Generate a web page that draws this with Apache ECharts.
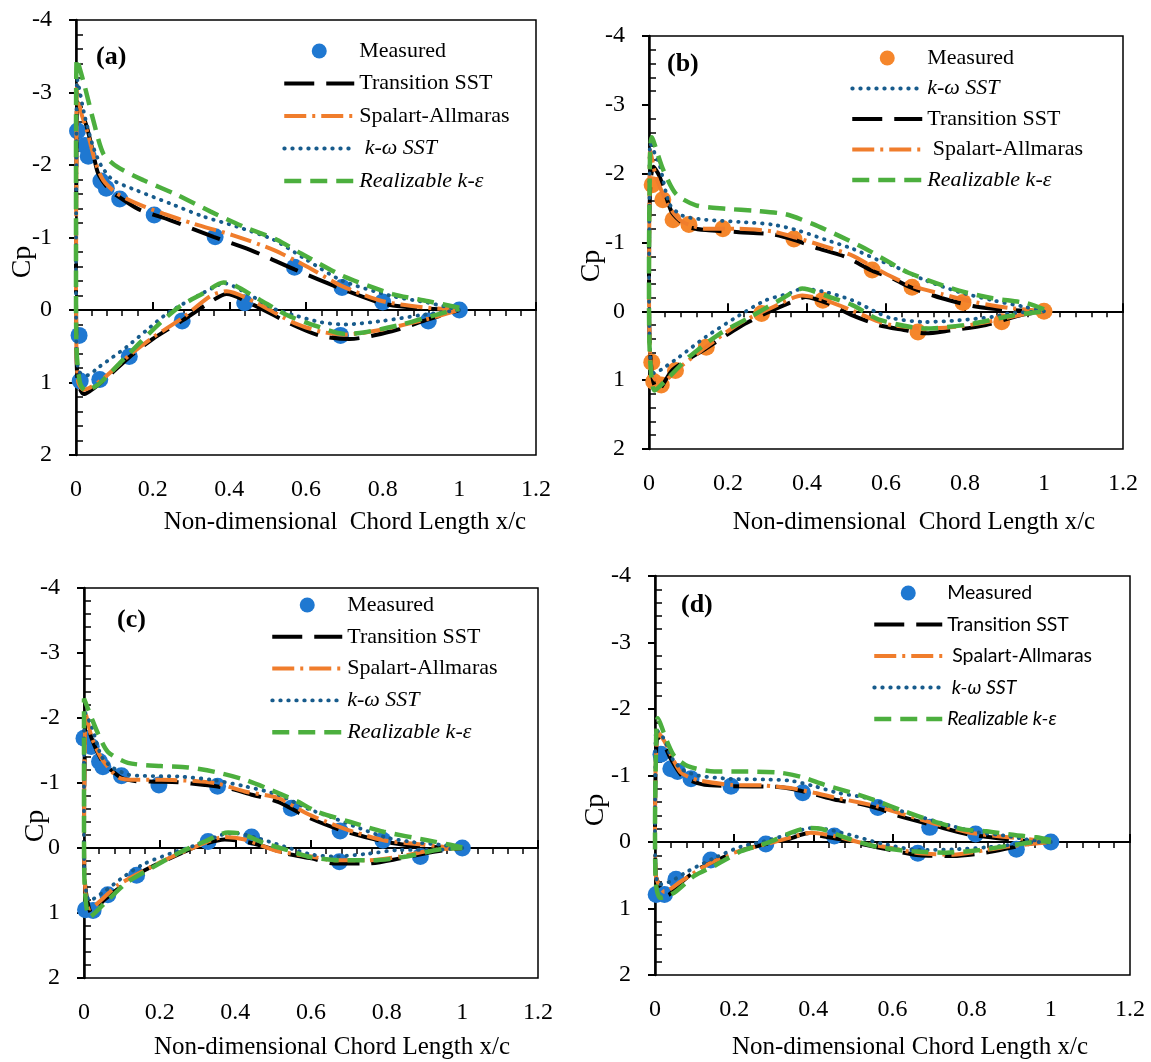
<!DOCTYPE html>
<html><head><meta charset="utf-8">
<script src="https://cdn.jsdelivr.net/npm/echarts@6/dist/echarts.min.js"></script>
<style>html,body{margin:0;padding:0;background:#fff}#c{width:1151px;height:1062px}</style>
</head><body><div id="c"></div>
<script>
// ---------- axis ticks ----------
const X_TICKS = [0, 0.2, 0.4, 0.6, 0.8, 1, 1.2];
const Y_TICKS = [-4, -3, -2, -1, 0, 1, 2];

// ---------- panel (a) ----------
const A_MEAS = [[0.004,-2.47],[0.023,-2.27],[0.032,-2.12],[0.065,-1.78],[0.079,-1.68],[0.114,-1.53],[0.204,-1.31],[0.363,-1.01],[0.570,-0.59],[0.694,-0.31],[0.800,-0.11],[1.0,0.0],[0.008,0.35],[0.011,0.98],[0.062,0.96],[0.139,0.64],[0.277,0.15],[0.440,-0.10],[0.690,0.35],[0.919,0.15]];
const A_TRANS_UP = [[0.004,-2.87],[0.028,-2.53],[0.045,-2.16],[0.058,-1.88],[0.089,-1.65],[0.132,-1.49],[0.167,-1.38],[0.245,-1.24],[0.359,-1.01],[0.454,-0.83],[0.57,-0.56],[0.694,-0.29],[0.80,-0.09],[0.886,-0.03],[1.0,0]];
const A_TRANS_LO = [[0.001,-2.0],[0.0,-0.5],[0.001,0.5],[0.005,1.0],[0.02,1.16],[0.07,0.98],[0.137,0.66],[0.2,0.40],[0.279,0.14],[0.359,-0.14],[0.393,-0.22],[0.463,-0.07],[0.568,0.21],[0.64,0.36],[0.714,0.40],[0.826,0.29],[0.919,0.13],[1.0,0]];
const A_SA_UP = [[0.003,-3.10],[0.012,-2.75],[0.03,-2.45],[0.05,-2.05],[0.071,-1.79],[0.106,-1.61],[0.167,-1.45],[0.228,-1.33],[0.306,-1.19],[0.41,-1.03],[0.515,-0.83],[0.602,-0.60],[0.694,-0.33],[0.80,-0.12],[0.919,-0.03],[1.0,0]];
const A_SA_LO = [[0.001,-2.0],[0.0,-0.5],[0.001,0.5],[0.006,1.0],[0.02,1.10],[0.07,0.95],[0.14,0.62],[0.2,0.38],[0.28,0.10],[0.35,-0.19],[0.393,-0.26],[0.47,-0.10],[0.57,0.18],[0.64,0.30],[0.70,0.34],[0.80,0.27],[0.919,0.12],[1.0,0]];
const A_KW_UP = [[0.003,-3.19],[0.023,-2.67],[0.045,-2.25],[0.067,-1.98],[0.097,-1.79],[0.158,-1.65],[0.245,-1.47],[0.332,-1.29],[0.419,-1.15],[0.515,-0.97],[0.602,-0.69],[0.696,-0.40],[0.826,-0.19],[0.919,-0.10],[1.0,0]];
const A_KW_LO = [[0.001,-2.0],[0.0,-0.5],[0.001,0.5],[0.008,0.85],[0.032,0.90],[0.054,0.81],[0.088,0.68],[0.132,0.51],[0.184,0.28],[0.237,0.05],[0.298,-0.14],[0.359,-0.31],[0.385,-0.37],[0.446,-0.23],[0.515,-0.02],[0.568,0.07],[0.64,0.17],[0.70,0.20],[0.80,0.15],[0.90,0.07],[1.0,0]];
const A_RKE_UP = [[0.002,-3.47],[0.023,-3.08],[0.045,-2.62],[0.071,-2.16],[0.106,-1.98],[0.176,-1.79],[0.263,-1.59],[0.35,-1.36],[0.437,-1.15],[0.524,-0.97],[0.587,-0.78],[0.696,-0.47],[0.826,-0.22],[0.919,-0.12],[1.0,-0.03]];
const A_RKE_LO = [[0.0,-2.0],[0.0,-0.5],[0.001,0.5],[0.01,1.0],[0.025,1.11],[0.06,1.02],[0.113,0.74],[0.165,0.46],[0.219,0.18],[0.271,-0.05],[0.332,-0.23],[0.385,-0.38],[0.41,-0.35],[0.48,-0.14],[0.55,0.07],[0.61,0.19],[0.70,0.33],[0.75,0.31],[0.85,0.20],[0.93,0.08],[1.0,-0.02]];

// ---------- panel (b) ----------
const B_MEAS = [[0.008,-1.84],[0.035,-1.62],[0.061,-1.33],[0.101,-1.26],[0.187,-1.20],[0.367,-1.05],[0.565,-0.60],[0.666,-0.35],[0.795,-0.13],[1.0,0.0],[0.007,0.74],[0.012,1.02],[0.031,1.07],[0.067,0.86],[0.145,0.52],[0.285,0.03],[0.44,-0.16],[0.681,0.30],[0.893,0.15]];
const B_TRANS_UP = [[0.011,-2.10],[0.026,-1.97],[0.056,-1.46],[0.077,-1.32],[0.102,-1.22],[0.144,-1.18],[0.228,-1.15],[0.313,-1.12],[0.367,-1.04],[0.43,-0.91],[0.498,-0.79],[0.565,-0.59],[0.615,-0.48],[0.666,-0.34],[0.742,-0.19],[0.827,-0.07],[0.912,-0.02],[1.0,0]];
const B_TRANS_LO = [[0.003,-1.8],[0.0,-0.5],[0.002,0.5],[0.01,1.0],[0.022,1.15],[0.06,0.85],[0.144,0.54],[0.228,0.23],[0.295,0.03],[0.363,-0.14],[0.397,-0.21],[0.455,-0.11],[0.515,0.06],[0.582,0.20],[0.64,0.265],[0.70,0.32],[0.76,0.28],[0.853,0.20],[0.938,0.06],[1.0,0]];
const B_SA_UP = [[0.003,-2.34],[0.018,-1.95],[0.052,-1.51],[0.085,-1.30],[0.144,-1.20],[0.228,-1.20],[0.313,-1.16],[0.372,-1.07],[0.447,-0.94],[0.515,-0.81],[0.565,-0.65],[0.615,-0.50],[0.666,-0.37],[0.742,-0.25],[0.827,-0.13],[0.912,-0.05],[1.0,0]];
const B_SA_LO = [[0.001,-1.5],[0.0,-0.3],[0.002,0.5],[0.008,0.90],[0.026,1.05],[0.085,0.78],[0.144,0.52],[0.228,0.18],[0.313,-0.06],[0.388,-0.23],[0.447,-0.16],[0.515,-0.01],[0.582,0.15],[0.614,0.20],[0.70,0.25],[0.785,0.22],[0.87,0.14],[0.955,0.035],[1.0,0]];
const B_KW_UP = [[0.003,-2.44],[0.027,-2.12],[0.052,-1.56],[0.085,-1.39],[0.144,-1.33],[0.228,-1.30],[0.313,-1.26],[0.38,-1.17],[0.447,-1.04],[0.515,-0.91],[0.582,-0.74],[0.615,-0.67],[0.70,-0.45],[0.785,-0.28],[0.87,-0.16],[0.955,-0.06],[1.0,0]];
const B_KW_LO = [[0.001,-1.5],[0.0,-0.3],[0.002,0.5],[0.006,0.85],[0.014,0.90],[0.035,0.83],[0.077,0.66],[0.144,0.37],[0.228,0.06],[0.295,-0.16],[0.355,-0.26],[0.388,-0.33],[0.447,-0.28],[0.515,-0.16],[0.582,0.03],[0.614,0.10],[0.70,0.155],[0.785,0.13],[0.87,0.08],[0.912,0.03],[1.0,0]];
const B_RKE_UP = [[0.007,-2.53],[0.035,-2.07],[0.069,-1.70],[0.119,-1.54],[0.195,-1.49],[0.27,-1.46],[0.346,-1.41],[0.414,-1.27],[0.48,-1.10],[0.548,-0.91],[0.606,-0.72],[0.657,-0.56],[0.785,-0.30],[0.87,-0.19],[0.955,-0.12],[1.0,-0.03]];
const B_RKE_LO = [[0.001,-1.5],[0.0,-0.3],[0.002,0.6],[0.014,1.15],[0.043,1.0],[0.102,0.66],[0.178,0.33],[0.254,0.09],[0.33,-0.16],[0.388,-0.33],[0.447,-0.23],[0.515,-0.09],[0.582,0.12],[0.70,0.25],[0.81,0.19],[0.92,0.06],[1.0,0]];

// ---------- panel (c) ----------
const C_MEAS = [[0.0,-1.69],[0.019,-1.56],[0.041,-1.33],[0.05,-1.25],[0.099,-1.11],[0.198,-0.97],[0.353,-0.95],[0.548,-0.61],[0.677,-0.26],[0.79,-0.12],[1.0,0.0],[0.004,0.95],[0.024,0.96],[0.063,0.72],[0.139,0.42],[0.328,-0.10],[0.443,-0.17],[0.675,0.21],[0.889,0.13]];
const C_TRANS_UP = [[0.005,-2.0],[0.02,-1.69],[0.046,-1.36],[0.072,-1.20],[0.099,-1.08],[0.134,-1.03],[0.187,-1.02],[0.249,-1.01],[0.319,-0.97],[0.381,-0.92],[0.443,-0.82],[0.513,-0.71],[0.589,-0.48],[0.677,-0.28],[0.792,-0.10],[0.88,-0.03],[1.0,0]];
const C_TRANS_LO = [[0.002,-1.5],[0.0,-0.3],[0.002,0.5],[0.02,1.0],[0.055,0.79],[0.09,0.63],[0.143,0.40],[0.196,0.24],[0.257,0.08],[0.302,-0.03],[0.372,-0.13],[0.425,-0.10],[0.478,-0.02],[0.531,0.08],[0.601,0.16],[0.66,0.24],[0.748,0.24],[0.836,0.16],[0.924,0.06],[1.0,0]];
const C_SA_UP = [[0.005,-2.05],[0.02,-1.71],[0.046,-1.38],[0.09,-1.09],[0.134,-1.05],[0.205,-1.05],[0.294,-1.03],[0.354,-0.99],[0.425,-0.87],[0.513,-0.77],[0.589,-0.53],[0.642,-0.40],[0.712,-0.25],[0.792,-0.12],[0.88,-0.06],[0.95,-0.02],[1.0,0]];
const C_SA_LO = [[0.002,-1.5],[0.0,-0.3],[0.002,0.5],[0.015,0.93],[0.09,0.57],[0.205,0.21],[0.275,0.03],[0.372,-0.17],[0.425,-0.13],[0.513,0.05],[0.601,0.13],[0.66,0.19],[0.748,0.19],[0.836,0.13],[0.924,0.03],[1.0,0]];
const C_KW_UP = [[0.0,-2.12],[0.02,-1.87],[0.046,-1.41],[0.072,-1.25],[0.116,-1.13],[0.16,-1.11],[0.249,-1.10],[0.337,-1.05],[0.425,-0.95],[0.513,-0.82],[0.589,-0.61],[0.66,-0.46],[0.73,-0.30],[0.80,-0.16],[0.871,-0.09],[0.942,-0.05],[1.0,0]];
const C_KW_LO = [[0.0,-1.2],[0.0,-0.2],[0.002,0.5],[0.015,0.81],[0.055,0.66],[0.108,0.43],[0.16,0.24],[0.231,0.08],[0.293,-0.04],[0.363,-0.20],[0.398,-0.23],[0.46,-0.15],[0.531,-0.02],[0.601,0.10],[0.66,0.13],[0.748,0.09],[0.836,0.03],[0.924,0.03],[1.0,0]];
const C_RKE_UP = [[0.0,-2.3],[0.02,-2.0],[0.037,-1.76],[0.063,-1.48],[0.116,-1.31],[0.205,-1.26],[0.275,-1.24],[0.346,-1.17],[0.425,-1.05],[0.495,-0.89],[0.566,-0.71],[0.615,-0.56],[0.704,-0.40],[0.792,-0.25],[0.907,-0.12],[0.968,-0.05],[1.0,-0.01]];
const C_RKE_LO = [[0.0,-1.2],[0.0,-0.2],[0.002,0.6],[0.015,1.06],[0.063,0.80],[0.116,0.52],[0.178,0.31],[0.249,0.08],[0.319,-0.10],[0.381,-0.24],[0.416,-0.22],[0.478,-0.07],[0.549,0.05],[0.598,0.14],[0.677,0.19],[0.765,0.19],[0.853,0.13],[0.942,0.02],[1.0,0]];

// ---------- panel (d) ----------
const D_MEAS = [[0.015,-1.32],[0.04,-1.10],[0.057,-1.06],[0.091,-0.95],[0.192,-0.84],[0.373,-0.74],[0.563,-0.52],[0.694,-0.22],[0.81,-0.12],[1.0,0.0],[0.003,0.79],[0.024,0.79],[0.053,0.56],[0.141,0.27],[0.28,0.03],[0.453,-0.09],[0.664,0.17],[0.913,0.11]];
const D_TRANS_UP = [[0.007,-1.59],[0.024,-1.45],[0.04,-1.25],[0.066,-1.01],[0.091,-0.92],[0.125,-0.86],[0.192,-0.84],[0.301,-0.83],[0.344,-0.80],[0.402,-0.72],[0.453,-0.64],[0.52,-0.57],[0.571,-0.49],[0.605,-0.41],[0.71,-0.24],[0.795,-0.11],[0.879,-0.05],[0.946,-0.01],[1.0,0]];
const D_TRANS_LO = [[0.002,-1.2],[0.0,-0.2],[0.002,0.5],[0.032,0.80],[0.066,0.61],[0.108,0.41],[0.15,0.29],[0.2,0.16],[0.259,0.06],[0.335,-0.04],[0.386,-0.13],[0.41,-0.10],[0.47,-0.04],[0.52,0.03],[0.587,0.11],[0.668,0.20],[0.753,0.21],[0.837,0.16],[0.904,0.08],[0.963,0.01],[1.0,0]];
const D_SA_UP = [[0.009,-1.64],[0.028,-1.47],[0.045,-1.25],[0.066,-1.04],[0.108,-0.93],[0.192,-0.86],[0.276,-0.85],[0.344,-0.81],[0.402,-0.74],[0.453,-0.67],[0.52,-0.59],[0.559,-0.54],[0.626,-0.42],[0.71,-0.27],[0.795,-0.14],[0.879,-0.08],[0.946,-0.04],[1.0,0]];
const D_SA_LO = [[0.002,-1.2],[0.0,-0.2],[0.002,0.5],[0.024,0.75],[0.066,0.59],[0.133,0.34],[0.2,0.16],[0.276,0.04],[0.344,-0.07],[0.394,-0.14],[0.453,-0.09],[0.52,0.01],[0.587,0.08],[0.668,0.17],[0.753,0.19],[0.837,0.12],[0.904,0.06],[1.0,0]];
const D_KW_UP = [[0.003,-1.69],[0.024,-1.54],[0.04,-1.29],[0.066,-1.10],[0.108,-1.00],[0.192,-0.95],[0.276,-0.94],[0.344,-0.92],[0.402,-0.84],[0.461,-0.74],[0.52,-0.68],[0.56,-0.62],[0.605,-0.50],[0.664,-0.39],[0.744,-0.25],[0.811,-0.15],[0.879,-0.10],[0.938,-0.04],[1.0,0]];
const D_KW_LO = [[0.001,-1.2],[0.0,-0.2],[0.002,0.5],[0.011,0.64],[0.04,0.59],[0.083,0.44],[0.15,0.24],[0.217,0.07],[0.276,-0.01],[0.335,-0.11],[0.394,-0.21],[0.436,-0.19],[0.503,-0.09],[0.571,0.02],[0.668,0.12],[0.753,0.11],[0.837,0.08],[0.904,0.04],[0.963,0.0],[1.0,0]];
const D_RKE_UP = [[0.007,-1.86],[0.032,-1.49],[0.049,-1.29],[0.083,-1.14],[0.15,-1.06],[0.234,-1.06],[0.318,-1.04],[0.369,-0.98],[0.428,-0.86],[0.503,-0.73],[0.559,-0.62],[0.626,-0.47],[0.71,-0.30],[0.778,-0.19],[0.837,-0.16],[0.912,-0.10],[0.963,-0.07],[1.0,-0.03]];
const D_RKE_LO = [[0.002,-1.2],[0.0,-0.2],[0.002,0.6],[0.013,0.84],[0.049,0.76],[0.099,0.51],[0.15,0.36],[0.217,0.14],[0.285,0.01],[0.344,-0.14],[0.386,-0.21],[0.419,-0.20],[0.47,-0.09],[0.52,0.01],[0.576,0.09],[0.651,0.14],[0.736,0.16],[0.82,0.12],[0.912,0.04],[0.98,-0.01],[1.0,0]];

// ---------- styling ----------
const SERIF = '"Liberation Serif", "Times New Roman", serif';
const SANS = 'Lato, "Open Sans", sans-serif';
const STYLE = {
  trans: {color:'#000000', width:4, type:[30,12], cap:'butt'},
  sa:    {color:'#f07d2c', width:4, type:[22,6,3,6], cap:'butt'},
  kw:    {color:'#175b8c', width:3.8, type:[0.5,7.5], cap:'round'},
  rke:   {color:'#4caf3e', width:4.5, type:[17,9], cap:'butt'}
};

const PANELS = [
  {key:'a', grid:{left:76, top:20, width:460, height:435}, meas:A_MEAS, mcolor:'#1f78d1',
   models:{trans:[A_TRANS_UP,A_TRANS_LO], sa:[A_SA_UP,A_SA_LO], kw:[A_KW_UP,A_KW_LO], rke:[A_RKE_UP,A_RKE_LO]},
   order:['meas','trans','sa','kw','rke'],
   labels:{meas:'{n|Measured}', trans:'{n|Transition SST}', sa:'{n|Spalart-Allmaras}', kw:'{i| k-ω SST}', rke:'{i|Realizable k-ε}'},
   lg:{left:282, top:40, gap:10.5, w:70}, lfont:SERIF, lsize:22, lh:22,
   tag:'(a)', tagPos:[96,57], cpPos:[23,262], title:'Non-dimensional  Chord Length x/c', titlePos:[345,522]},
  {key:'b', grid:{left:649, top:36, width:474, height:413}, meas:B_MEAS, mcolor:'#f5862b',
   models:{trans:[B_TRANS_UP,B_TRANS_LO], sa:[B_SA_UP,B_SA_LO], kw:[B_KW_UP,B_KW_LO], rke:[B_RKE_UP,B_RKE_LO]},
   order:['meas','kw','trans','sa','rke'],
   labels:{meas:'{n|Measured}', trans:'{n|Transition SST}', sa:'{n| Spalart-Allmaras}', kw:'{i|k-ω SST}', rke:'{i|Realizable k-ε}'},
   lg:{left:850, top:47, gap:8.5, w:70}, lfont:SERIF, lsize:22, lh:22,
   tag:'(b)', tagPos:[667,64], cpPos:[592,266], title:'Non-dimensional  Chord Length x/c', titlePos:[914,522]},
  {key:'c', grid:{left:84, top:588, width:454, height:390}, meas:C_MEAS, mcolor:'#1f78d1',
   models:{trans:[C_TRANS_UP,C_TRANS_LO], sa:[C_SA_UP,C_SA_LO], kw:[C_KW_UP,C_KW_LO], rke:[C_RKE_UP,C_RKE_LO]},
   order:['meas','trans','sa','kw','rke'],
   labels:{meas:'{n|Measured}', trans:'{n|Transition SST}', sa:'{n|Spalart-Allmaras}', kw:'{i|k-ω SST}', rke:'{i|Realizable k-ε}'},
   lg:{left:270, top:594, gap:9.8, w:70}, lfont:SERIF, lsize:22, lh:22,
   tag:'(c)', tagPos:[117,620], cpPos:[36,826], title:'Non-dimensional Chord Length x/c', titlePos:[332,1047]},
  {key:'d', grid:{left:655, top:576, width:475, height:399}, meas:D_MEAS, mcolor:'#1f78d1',
   models:{trans:[D_TRANS_UP,D_TRANS_LO], sa:[D_SA_UP,D_SA_LO], kw:[D_KW_UP,D_KW_LO], rke:[D_RKE_UP,D_RKE_LO]},
   order:['meas','trans','sa','kw','rke'],
   labels:{meas:'{n|Measured}', trans:'{n|Transition SST}', sa:'{n| Spalart-Allmaras}', kw:'{i| k-ω SST}', rke:'{i|Realizable k-ε}'},
   lg:{left:872, top:583, gap:11.5, w:68}, lfont:SANS, lsize:19.5, lh:20,
   tag:'(d)', tagPos:[681,605], cpPos:[596,810], title:'Non-dimensional Chord Length x/c', titlePos:[910,1047]}
];

const xMin = X_TICKS[0], xMax = X_TICKS[X_TICKS.length-1], xInt = X_TICKS[1]-X_TICKS[0];
const yMin = Y_TICKS[0], yMax = Y_TICKS[Y_TICKS.length-1], yInt = Y_TICKS[1]-Y_TICKS[0];
const BLACK = '#000';

const grid = [], xAxis = [], yAxis = [], series = [], legend = [], graphic = [];
PANELS.forEach((p, i) => {
  const g0 = 3*i;
  for (let k = 0; k < 3; k++) grid.push(Object.assign({show: k===0, borderColor:BLACK, borderWidth:1.5, backgroundColor:'transparent'}, p.grid));
  const baseX = {type:'value', min:xMin, max:xMax, interval:xInt, splitLine:{show:false}, minorSplitLine:{show:false}};
  const baseY = {type:'value', min:yMin, max:yMax, interval:yInt, inverse:true, splitLine:{show:false}, minorSplitLine:{show:false}};
  xAxis.push(Object.assign({}, baseX, {gridIndex:g0, position:'bottom',
    axisLine:{show:false, onZero:false}, axisTick:{show:false},
    axisLabel:{show:true, margin:23, color:BLACK, fontFamily:SERIF, fontSize:24, showMinLabel:true, showMaxLabel:true}}));
  yAxis.push(Object.assign({}, baseY, {gridIndex:g0, position:'left',
    axisLine:{show:true, onZero:false, lineStyle:{color:BLACK, width:2.5}},
    axisTick:{show:true, inside:false, length:7, lineStyle:{color:BLACK, width:2}},
    axisLabel:{show:true, margin:24, color:BLACK, fontFamily:SERIF, fontSize:24, showMinLabel:true, showMaxLabel:true}}));
  xAxis.push(Object.assign({}, baseX, {gridIndex:g0+1,
    axisLine:{show:true, onZero:true, lineStyle:{color:BLACK, width:2}},
    axisTick:{show:true, inside:true, length:8, lineStyle:{color:BLACK, width:2}},
    minorTick:{show:false}, axisLabel:{show:false}}));
  yAxis.push(Object.assign({}, baseY, {gridIndex:g0+1,
    axisLine:{show:false, onZero:false}, axisTick:{show:false, inside:true},
    minorTick:{show:true, splitNumber:5, length:7, lineStyle:{color:BLACK, width:1.5}},
    axisLabel:{show:false}}));
  xAxis.push(Object.assign({}, baseX, {gridIndex:g0+2,
    axisLine:{show:true, onZero:true, lineStyle:{color:BLACK, width:2}},
    axisTick:{show:false, inside:false},
    minorTick:{show:true, splitNumber:5, length:6, lineStyle:{color:BLACK, width:1.5}},
    axisLabel:{show:false}}));
  yAxis.push(Object.assign({}, baseY, {gridIndex:g0+2,
    axisLine:{show:false, onZero:false}, axisTick:{show:false}, axisLabel:{show:false}}));

  series.push({type:'scatter', name:p.key+'|meas', xAxisIndex:g0, yAxisIndex:g0, data:p.meas,
    symbol:'circle', symbolSize:17, itemStyle:{color:p.mcolor, opacity:1}, silent:true, z:2});
  ['trans','sa','kw','rke'].forEach(m => {
    const [up, lo] = p.models[m];
    series.push({type:'line', name:p.key+'|'+m, xAxisIndex:g0, yAxisIndex:g0,
      data: up.slice().reverse().concat(lo), symbol:'none', showSymbol:false, smooth:0.25,
      lineStyle:STYLE[m], itemStyle:{color:STYLE[m].color}, silent:true, z:3});
  });

  const ts = {fontFamily:p.lfont, fontSize:p.lsize, color:BLACK, lineHeight:p.lh};
  legend.push({orient:'vertical', left:p.lg.left, top:p.lg.top, itemGap:p.lg.gap, itemWidth:p.lg.w, itemHeight:15,
    padding:0, selectedMode:false,
    data:p.order.map(k => k==='meas'
      ? {name:p.key+'|meas', icon:'circle'}
      : {name:p.key+'|'+k, itemStyle:{opacity:0, borderWidth:0}}),
    formatter: name => p.labels[name.split('|')[1]],
    lineStyle:{width:'inherit'},
    textStyle:Object.assign({}, ts, {rich:{n:Object.assign({}, ts), i:Object.assign({fontStyle:'italic'}, ts)}})});

  graphic.push({type:'text', x:p.tagPos[0], y:p.tagPos[1], style:{text:p.tag, font:'bold 26px '+SERIF, fill:BLACK, verticalAlign:'middle'}});
  graphic.push({type:'text', x:p.cpPos[0], y:p.cpPos[1], rotation:Math.PI/2, style:{text:'Cp', font:'28px '+SERIF, fill:BLACK, align:'center', verticalAlign:'middle'}});
  graphic.push({type:'text', x:p.titlePos[0], y:p.titlePos[1], style:{text:p.title, font:'25px '+SERIF, fill:BLACK, align:'center', verticalAlign:'middle'}});
});

const chart = echarts.init(document.getElementById('c'), null, {renderer:'canvas'});
chart.setOption({animation:false, backgroundColor:'#fff', grid, xAxis, yAxis, series, legend, graphic});
</script></body></html>
